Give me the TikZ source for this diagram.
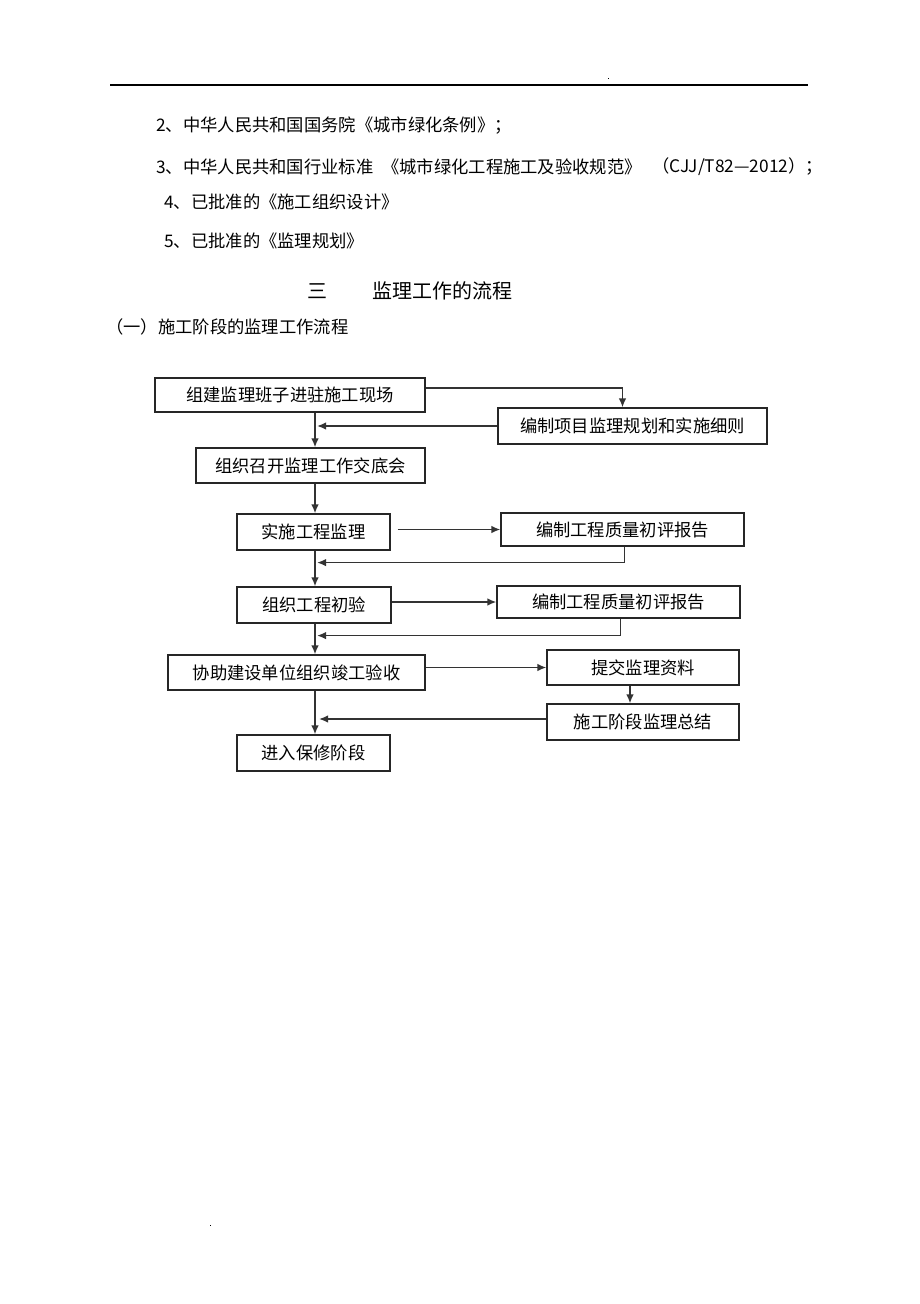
\documentclass[tikz,border=0pt]{standalone}
\usepackage{fontspec}
\setmainfont{Noto Sans CJK SC}
\usetikzlibrary{arrows.meta,calc}
\begin{document}
\begin{tikzpicture}[x=1pt,y=-1pt,
  box/.style={draw=black!85,line width=1.2pt,inner sep=0pt,font=\fontsize{17.3pt}{20pt}\selectfont},
  arr/.style={draw=black!80,line width=1.6pt,-{Latex[length=9pt,width=7.5pt]}},
  txt/.style={anchor=west,inner sep=0pt,font=\fontsize{17.3pt}{20pt}\selectfont},
  head/.style={anchor=west,inner sep=0pt,font=\fontsize{20pt}{23pt}\selectfont}]
\useasboundingbox[fill=white] (0,0) rectangle (920,1304);
% header rule and dots
\draw[line width=1.2pt] (110,85) -- (808,85);
\fill (607.5,77.5) rectangle (609,79);
\fill (209.5,1224.5) rectangle (211,1226);
% body text
\node[txt] (l2) at (156,126) {2、中华人民共和国国务院《城市绿化条例》；};
\node[txt] (l3a) at (156,167) {3、中华人民共和国行业标准};
\node[txt] (l3b) at (382,167) {《城市绿化工程施工及验收规范》};
\node[txt] (l3c) at (652,167) {（CJJ/T82—2012）；};
\node[txt] (l4) at (164,202) {4、已批准的《施工组织设计》};
\node[txt] (l5) at (164,241) {5、已批准的《监理规划》};
\node[head] (h1) at (307,291) {三};
\node[head] (h2) at (372,291) {监理工作的流程};
\node[txt] (h3) at (106,327) {（一）施工阶段的监理工作流程};
% boxes
\node[box,minimum width=270pt,minimum height=34pt] (b1) at (290,395) {组建监理班子进驻施工现场};
\node[box,minimum width=269pt,minimum height=36pt] (b2) at (632.5,426) {编制项目监理规划和实施细则};
\node[box,minimum width=229pt,minimum height=35pt] (b3) at (310.5,465.5) {组织召开监理工作交底会};
\node[box,minimum width=153pt,minimum height=36pt] (b4) at (313.5,532) {实施工程监理};
\node[box,minimum width=243pt,minimum height=33pt] (b5) at (622.5,529.5) {编制工程质量初评报告};
\node[box,minimum width=154pt,minimum height=36pt] (b6) at (314,605) {组织工程初验};
\node[box,minimum width=243pt,minimum height=32pt] (b7) at (618.5,602) {编制工程质量初评报告};
\node[box,minimum width=257pt,minimum height=35pt] (b8) at (296.5,672.5) {协助建设单位组织竣工验收};
\node[box,minimum width=192pt,minimum height=35pt] (b9) at (643,667.5) {提交监理资料};
\node[box,minimum width=192pt,minimum height=36pt] (b10) at (643,722) {施工阶段监理总结};
\node[box,minimum width=153pt,minimum height=36pt] (b11) at (313.5,753) {进入保修阶段};
% trunk column
\coordinate (t) at (315,0);
% connectors
\draw[arr] ([yshift=7pt]b1.east) -| ([xshift=-10pt]b2.north);
\draw[arr] (b2.west) -- ($(b2.west -| t)+(2,0)$);
\draw[arr] (b1.south -| t) -- (b3.north -| t);
\draw[arr] (b3.south -| t) -- (b4.north -| t);
\coordinate (a4) at ([xshift=7pt]b4.east);
\draw[arr] (a4 |- b5.west) -- (b5.west);
\draw[arr] ([xshift=2pt]b5.south) -- ++(0,16) coordinate (c5) -- ($(c5 -| t)+(2,0)$);
\draw[arr] (b4.south -| t) -- (b6.north -| t);
\draw[arr] (b6.east |- b7.west) -- (b7.west);
\draw[arr] ([xshift=2pt]b7.south) -- ++(0,17) coordinate (c7) -- ($(c7 -| t)+(2,0)$);
\draw[arr] (b6.south -| t) -- (b8.north -| t);
\draw[arr] (b8.east |- b9.west) -- (b9.west);
\draw[arr] ([xshift=-13pt]b9.south) -- ([xshift=-13pt]b10.north);
\draw[arr] ([yshift=3pt]b10.west) -- ($([yshift=3pt]b10.west -| t)+(4,0)$);
\draw[arr] (b8.south -| t) -- (b11.north -| t);
\end{tikzpicture}
\end{document}
